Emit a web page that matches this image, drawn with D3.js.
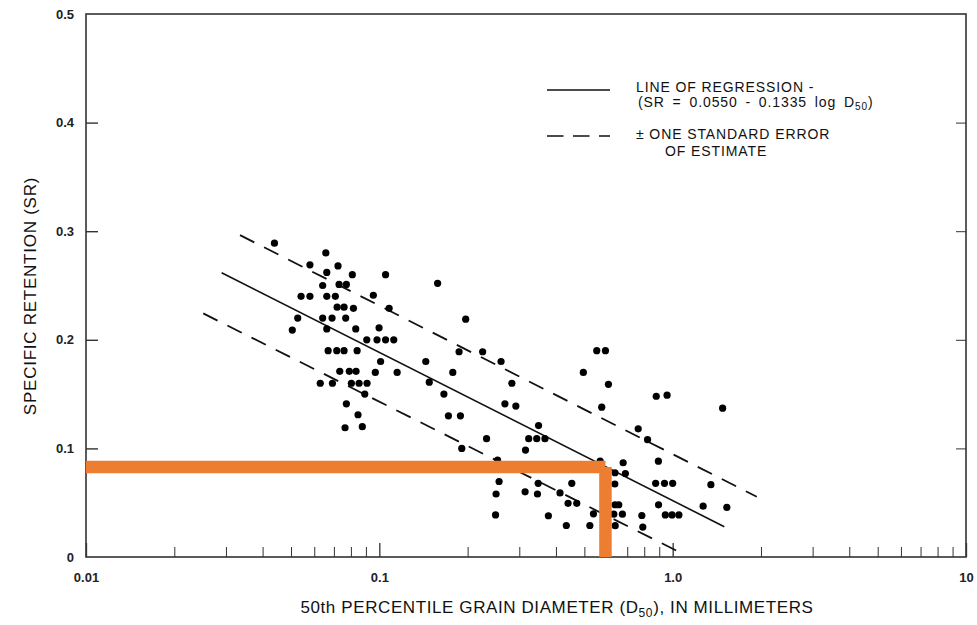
<!DOCTYPE html>
<html>
<head>
<meta charset="utf-8">
<script src="https://cdn.jsdelivr.net/npm/d3@7"></script>
<style>
  body { margin: 0; background: #fff; }
  svg { display: block; font-family: "Liberation Sans", Arial, sans-serif; }
  .axis path, .axis line { stroke: #333; }
  .axis text { font-weight: bold; font-size: 13px; fill: #222; }
</style>
</head>
<body>
<svg id="chart" width="977" height="625"></svg>
<script>
// grain diameter D50 (mm) and specific retention
const diam = [
  0.0439, 0.0657, 0.0580, 0.0723, 0.0662, 0.0809, 0.105, 0.158, 0.0641, 0.0729,
  0.0772, 0.0541, 0.0580, 0.0662, 0.0708, 0.0954, 0.0718, 0.0758, 0.0816, 0.108,
  0.0527, 0.0641, 0.0690, 0.0768, 0.0505, 0.0662, 0.0831, 0.0998, 0.0906, 0.0982,
  0.105, 0.112, 0.0669, 0.0716, 0.0758, 0.0840, 0.101, 0.144, 0.0733, 0.0790,
  0.0833, 0.0969, 0.115, 0.0629, 0.0692, 0.0803, 0.0853, 0.0908, 0.148, 0.0892,
  0.0772, 0.0846, 0.0764, 0.0875,
  0.197, 0.187, 0.225, 0.260, 0.178, 0.283, 0.166, 0.268, 0.292, 0.172,
  0.189, 0.349, 0.232, 0.323, 0.344, 0.367, 0.191, 0.315, 0.253, 0.256,
  0.348, 0.453, 0.250, 0.314, 0.346, 0.413, 0.440, 0.471, 0.249, 0.377,
  0.537, 0.434, 0.522, 0.496,
  0.551, 0.590, 0.604, 0.573, 0.879, 0.957, 1.48, 0.763, 0.821, 0.566,
  0.678, 0.894, 0.636, 0.690, 0.635, 0.875, 0.938, 1.00, 1.35, 0.636,
  0.655, 0.895, 1.27, 1.53, 0.630, 0.674, 0.785, 0.944, 0.995, 1.05,
  0.637, 0.791
];
const retention = [
  0.289, 0.280, 0.269, 0.268, 0.262, 0.260, 0.260, 0.252, 0.250, 0.251,
  0.251, 0.240, 0.240, 0.240, 0.240, 0.241, 0.230, 0.230, 0.229, 0.229,
  0.220, 0.220, 0.220, 0.220, 0.209, 0.210, 0.210, 0.211, 0.200, 0.200,
  0.200, 0.200, 0.190, 0.190, 0.190, 0.190, 0.180, 0.180, 0.171, 0.171,
  0.171, 0.170, 0.170, 0.160, 0.160, 0.160, 0.160, 0.160, 0.161, 0.150,
  0.141, 0.131, 0.119, 0.120,
  0.219, 0.189, 0.189, 0.180, 0.170, 0.160, 0.150, 0.141, 0.139, 0.130,
  0.130, 0.121, 0.109, 0.109, 0.109, 0.109, 0.100, 0.0985, 0.0893, 0.0695,
  0.0678, 0.0678, 0.058, 0.060, 0.058, 0.059, 0.0494, 0.0494, 0.0387, 0.038,
  0.0398, 0.029, 0.029, 0.170,
  0.190, 0.190, 0.159, 0.138, 0.148, 0.149, 0.137, 0.118, 0.108, 0.0884,
  0.0868, 0.0882, 0.0776, 0.0769, 0.0672, 0.0678, 0.0678, 0.0678, 0.0666, 0.0481,
  0.0481, 0.048, 0.0468, 0.0457, 0.0394, 0.0394, 0.0382, 0.0387, 0.0387, 0.0387,
  0.0288, 0.0276
];

// drawn lines as [D50, SR] end points
const regression = [[0.029, 0.2617], [1.50, 0.0279]];
const upperError = [[0.0335, 0.2964], [1.935, 0.0555]];
const lowerError = [[0.0251, 0.2243], [1.074, 0.0034]];

// orange reading guide
const readD = 0.590;
const readSR = 0.0828;

const xMajor = [0.01, 0.1, 1, 10];
const xMajorLabels = ["0.01", "0.1", "1.0", "10"];
const yTicks = [0, 0.1, 0.2, 0.3, 0.4, 0.5];
const yTickLabels = ["0", "0.1", "0.2", "0.3", "0.4", "0.5"];

const mLeft = 86, mRight = 966, mTop = 14, mBottom = 557;

const svg = d3.select("#chart");

const x = d3.scaleLog().domain([0.01, 10]).range([mLeft, mRight]);
const y = d3.scaleLinear().domain([0, 0.5]).range([mBottom, mTop]);

// minor ticks 2..9 in each decade
const xMinor = [];
[0.01, 0.1, 1].forEach(d => { for (let k = 2; k <= 9; k++) xMinor.push(d * k); });

// frame
svg.append("rect")
  .attr("x", mLeft).attr("y", mTop)
  .attr("width", mRight - mLeft).attr("height", mBottom - mTop)
  .attr("fill", "none").attr("stroke", "#333").attr("stroke-width", 1.6);

// bottom axis: minor ticks
svg.append("g").attr("class", "axis")
  .attr("transform", "translate(0," + mBottom + ")")
  .call(d3.axisBottom(x).tickValues(xMinor).tickSize(-10).tickFormat(""))
  .call(g => g.select(".domain").remove());

// bottom axis: major ticks and labels
svg.append("g").attr("class", "axis")
  .attr("transform", "translate(0," + mBottom + ")")
  .call(d3.axisBottom(x).tickValues(xMajor).tickSize(-14).tickPadding(16)
    .tickFormat((d, i) => xMajorLabels[i]))
  .call(g => g.select(".domain").remove())
  .call(g => g.selectAll("line").attr("stroke-width", 1.3));

// left axis
svg.append("g").attr("class", "axis")
  .attr("transform", "translate(" + mLeft + ",0)")
  .call(d3.axisLeft(y).tickValues(yTicks).tickSize(-12).tickPadding(12)
    .tickFormat((d, i) => yTickLabels[i]))
  .call(g => g.select(".domain").remove())
  .call(g => g.selectAll(".tick").filter(d => d === 0 || d === 0.5).select("line").remove())
  .call(g => g.selectAll("line").attr("stroke-width", 1.4));

// right axis, ticks pointing in
svg.append("g").attr("class", "axis")
  .attr("transform", "translate(" + mRight + ",0)")
  .call(d3.axisRight(y).tickValues([0.1, 0.2, 0.3, 0.4]).tickSize(-10).tickFormat(""))
  .call(g => g.select(".domain").remove());

// lines
const line = d3.line().x(d => x(d[0])).y(d => y(d[1]));

svg.append("path").datum(regression)
  .attr("d", line).attr("fill", "none")
  .attr("stroke", "#111").attr("stroke-width", 1.6);

[upperError, lowerError].forEach(seg => {
  svg.append("path").datum(seg)
    .attr("d", line).attr("fill", "none")
    .attr("stroke", "#111").attr("stroke-width", 1.8)
    .attr("stroke-dasharray", "16,11");
});

// points
svg.append("g")
  .selectAll("circle")
  .data(diam.map((d, i) => [d, retention[i]]))
  .enter()
  .append("circle")
  .attr("cx", d => x(d[0]))
  .attr("cy", d => y(d[1]))
  .attr("r", 3.6)
  .attr("fill", "#000");

// orange reading guide
svg.append("line")
  .attr("x1", mLeft).attr("x2", x(readD))
  .attr("y1", y(readSR)).attr("y2", y(readSR))
  .attr("stroke", "#ED7D31").attr("stroke-width", 12.5);
svg.append("line")
  .attr("x1", x(readD)).attr("x2", x(readD))
  .attr("y1", y(readSR)).attr("y2", mBottom)
  .attr("stroke", "#ED7D31").attr("stroke-width", 12.5);

// legend
const lg = svg.append("g").attr("font-size", 14).attr("fill", "#111")
  .attr("letter-spacing", 0.9);
lg.append("line").attr("x1", 547).attr("x2", 610).attr("y1", 90).attr("y2", 90)
  .attr("stroke", "#111").attr("stroke-width", 1.5);
lg.append("line").attr("x1", 547).attr("x2", 610).attr("y1", 136).attr("y2", 136)
  .attr("stroke", "#111").attr("stroke-width", 1.6).attr("stroke-dasharray", "16.5,9.5");
lg.append("text").attr("x", 636).attr("y", 92).text("LINE OF REGRESSION -");
const eq = lg.append("text").attr("x", 638).attr("y", 107).attr("word-spacing", 3);
eq.append("tspan").text("(SR = 0.0550 - 0.1335 log D");
eq.append("tspan").attr("font-size", 10).attr("dy", 3).text("50");
eq.append("tspan").attr("dy", -3).text(")");
lg.append("text").attr("x", 636).attr("y", 138.5).text("\u00B1  ONE STANDARD ERROR");
lg.append("text").attr("x", 665).attr("y", 155.5).text("OF ESTIMATE");

// axis titles
const xt = svg.append("text")
  .attr("x", 557).attr("y", 613)
  .attr("text-anchor", "middle").attr("font-size", 17).attr("fill", "#111")
  .attr("letter-spacing", 0.6);
xt.append("tspan").text("50th PERCENTILE GRAIN DIAMETER (D");
xt.append("tspan").attr("font-size", 12).attr("dy", 4).text("50");
xt.append("tspan").attr("dy", -4).text("), IN MILLIMETERS");

svg.append("text")
  .attr("transform", "translate(36,296) rotate(-90)")
  .attr("text-anchor", "middle").attr("font-size", 17).attr("fill", "#111")
  .attr("letter-spacing", 0.75)
  .text("SPECIFIC RETENTION (SR)");
</script>
</body>
</html>
